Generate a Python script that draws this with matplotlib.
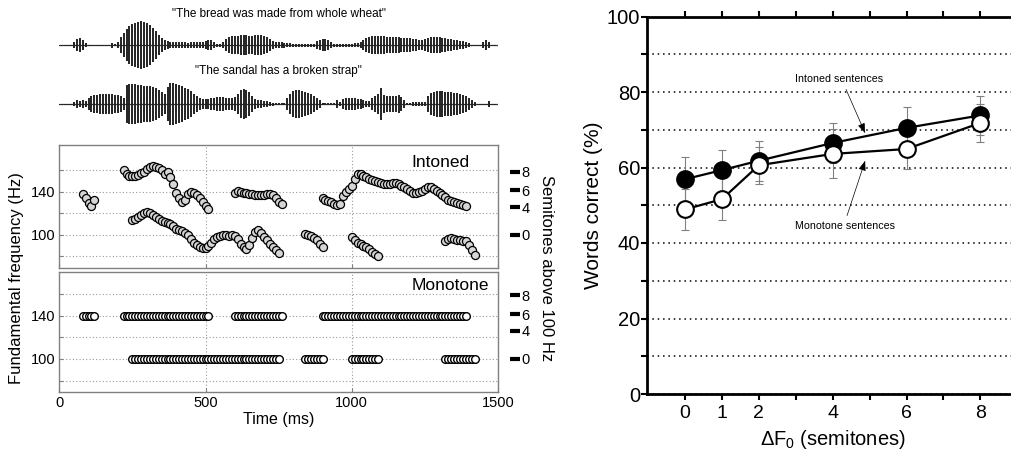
import numpy as np
import matplotlib
matplotlib.use("Agg")
import matplotlib.pyplot as plt

plt.rcParams['font.family'] = ['Liberation Sans', 'DejaVu Sans']
plt.rcParams['mathtext.fontset'] = 'custom'
plt.rcParams['mathtext.rm'] = 'Liberation Sans'
plt.rcParams['mathtext.it'] = 'Liberation Sans:italic'

# ---------------- data ----------------
sentence_titles = ['"The bread was made from whole wheat"', '"The sandal has a broken strap"']
wave_step_ms = 10
bread_envelope = [0.5, 0.5, 0.5, 0.5, 0.5,
                  3, 6, 7, 5, 2,
                  0.5, 0.5, 0.5, 0.5, 0.5, 0.5, 0.5, 0.5,
                  2.5, 1, 3,
                  8, 12, 16, 19, 21, 22, 23, 24, 23, 22, 20, 17, 14, 10, 7, 5,
                  4, 3, 3, 3, 3, 3, 3, 2.5, 3, 3, 3, 3, 3, 4, 5,
                  5, 3, 1.5, 1.5, 3,
                  6, 8, 9, 9, 9, 10, 10, 10, 9, 9, 10, 10, 10, 9, 8, 6, 4,
                  3, 3, 3, 2.5, 2, 2,
                  1.5, 1.5, 1.5, 1.5, 1.5, 1.5, 1.5, 1.5,
                  4, 5, 6, 6, 5, 3,
                  1.5, 1.5, 1.5, 1.5, 1.5, 1.5, 1.5, 2, 2, 3,
                  5, 7, 8, 9, 9, 9, 9, 9, 8, 8, 8, 8, 8, 7, 7, 7, 7, 6, 6, 5,
                  5, 6, 7, 8, 8, 8, 8, 7, 7, 6, 6, 5, 5, 4, 4, 3, 2,
                  0.5, 0.5, 0.5, 0.5,
                  3, 5, 3,
                  0.5, 0.5]
sandal_envelope = [0.5, 0.5, 0.5, 0.5, 0.5,
                   2, 4, 3, 4, 3,
                   6, 8, 9, 9, 10, 10, 10, 10, 10, 9, 9, 8, 6,
                   19, 20, 20, 20, 19, 19, 18, 18, 18, 17, 16, 14, 12, 10,
                   17, 21, 21, 20, 19, 18, 16, 15, 13, 10, 8,
                   6, 5, 5, 5, 6, 6, 7, 7, 7, 6, 6, 6, 7,
                   10, 14, 15, 14, 12, 8, 5,
                   4, 4, 3, 3, 2, 1.5,
                   1, 1, 1, 1,
                   6, 10, 13, 14, 14, 13, 12, 11, 10, 8, 6, 4,
                   1, 1, 1, 1, 1,
                   4, 2,
                   5, 6, 6, 6, 6, 5, 5, 4, 3,
                   3, 6, 8, 10, 16, 9, 8, 8, 8, 8, 9, 7, 4,
                   1, 1, 2, 2, 2, 2, 2,
                   8, 11, 12, 13, 13, 13, 12, 12, 12, 11, 11, 10, 9, 8, 6, 4, 2,
                   0.5, 0.5, 0.5, 0.5,
                   3,
                   0.5, 0.5]

f0_step_ms = 10
# upper-pitched sentence ("bread"), intoned F0 tracks (Hz)
upper_starts_ms = [80, 220, 600, 900]
upper_seg1_hz = [138, 134, 130, 127, 133]
upper_seg2_hz = [160, 157, 155, 155, 155, 156, 158, 159, 161, 163, 164, 163, 162, 160, 157,
                 159, 154, 147, 139, 134, 131, 133, 138, 140, 139, 137, 134, 131, 127, 124]
upper_seg3_hz = [139, 141, 140, 139, 139, 138, 138, 137, 137, 137, 137, 138, 138, 137, 134, 131, 129]
upper_seg4_hz = [134, 133, 132, 131, 129, 128, 129, 136, 140, 143, 146, 152, 157, 157, 155,
                 154, 152, 151, 150, 149, 148, 147, 147, 147, 148, 148, 147, 146, 145, 143,
                 141, 139, 139, 140, 141, 143, 145, 145, 143, 141, 139, 137, 135, 133, 132,
                 131, 130, 129, 128, 127]
# lower-pitched sentence ("sandal"), intoned F0 tracks (Hz)
lower_starts_ms = [250, 650, 840, 1000, 1320]
lower_seg1_hz = [114, 115, 117, 119, 120, 121, 120, 119, 117, 115, 113, 112, 111, 110, 108, 106,
                 105, 104, 102, 100, 96, 93, 91, 89, 88, 88, 90, 93, 96, 98, 99, 100, 100, 99,
                 100, 99, 96, 92, 89, 87]
lower_seg2_hz = [91, 97, 103, 105, 102, 98, 95, 92, 89, 86, 83]
lower_seg3_hz = [101, 100, 99, 97, 95, 92, 89]
lower_seg4_hz = [98, 95, 93, 92, 90, 89, 87, 84, 82, 80]
lower_seg5_hz = [94, 96, 97, 96, 95, 95, 94, 94, 91, 86, 81]
monotone_upper_hz = 140
monotone_lower_hz = 100
semitone_ticks = [0, 4, 6, 8]

delta_f0 = [0, 1, 2, 4, 6, 8]
intoned_pct = [56.9, 59.3, 61.8, 66.5, 70.5, 73.8]
intoned_err = [5.9, 5.4, 5.3, 5.2, 5.5, 5.1]
monotone_pct = [48.9, 51.6, 60.6, 63.6, 64.9, 71.8]
monotone_err = [5.5, 5.6, 4.9, 6.5, 5.3, 5.0]

# ---------------- figure ----------------
W, H = 1011, 450
fig = plt.figure(figsize=(W / 100, H / 100), dpi=100)


def fx(px):
    return px / W


def fy(py):
    return 1 - py / H


L, R = 59.3, 498.0
# waveforms
ax_w = fig.add_axes([fx(L), fy(135), fx(R) - fx(L), 135 / H])
ax_w.set_xlim(0, 1500)
ax_w.set_ylim(135, 0)
ax_w.axis('off')
for center, env in ((45, bread_envelope), (104, sandal_envelope)):
    env = np.asarray(env, dtype=float)
    t = np.arange(len(env)) * wave_step_ms
    ax_w.hlines(center, 0, 1500, color='#333333', lw=0.9)
    ax_w.vlines(t, center - env, center + env, color='#222222', lw=1.4)
ax_w.text(750, 14, sentence_titles[0], ha='center', va='center', fontsize=8.5)
ax_w.text(750, 71, sentence_titles[1], ha='center', va='center', fontsize=8.5)

ax_i = fig.add_axes([fx(L), fy(268), fx(R) - fx(L), (268 - 145) / H])
ax_m = fig.add_axes([fx(L), fy(392), fx(R) - fx(L), (392 - 272) / H])
ax_i.set_ylim(69.3, 183.7)
ax_m.set_ylim(69.5, 180.4)

upper_segs = [upper_seg1_hz, upper_seg2_hz, upper_seg3_hz, upper_seg4_hz]
lower_segs = [lower_seg1_hz, lower_seg2_hz, lower_seg3_hz, lower_seg4_hz, lower_seg5_hz]

for ax, mono in ((ax_i, False), (ax_m, True)):
    ax.set_xlim(0, 1500)
    for sp in ax.spines.values():
        sp.set_color('#808080')
        sp.set_linewidth(1.0)
    ax.set_yticks([80, 100, 120, 140, 160])
    ax.set_yticklabels(['', '100', '', '140', ''])
    ax.set_xticks([0, 500, 1000, 1500])
    ax.tick_params(axis='both', direction='in', length=3, color='#808080', labelsize=10.5, pad=3)
    ax.grid(True, color='#9a9a9a', ls=(0, (1, 2)), lw=0.8)
    ax.set_axisbelow(True)
    for starts, segs, mono_hz in ((upper_starts_ms, upper_segs, monotone_upper_hz),
                                  (lower_starts_ms, lower_segs, monotone_lower_hz)):
        for st, seg in zip(starts, segs):
            t = st + np.arange(len(seg)) * f0_step_ms
            if mono:
                ax.plot(t, np.full(len(seg), mono_hz), 'o', ms=5.5, mfc='white', mec='black',
                        mew=1.0, ls='none', zorder=3)
            else:
                ax.plot(t, seg, 'o', ms=5.8, mfc='#d6d6d6', mec='black', mew=0.9,
                        ls='none', zorder=3)
    # semitone axis
    ax2 = ax.twinx()
    ax2.set_ylim(ax.get_ylim())
    for sp in ax2.spines.values():
        sp.set_visible(False)
    ax2.spines['right'].set_position(('outward', 8.6))
    ax2.set_yticks([100 * 2 ** (s / 12) for s in semitone_ticks])
    ax2.set_yticklabels([str(s) for s in semitone_ticks])
    ax2.tick_params(axis='y', direction='out', length=7, width=3, color='black',
                    labelsize=10.5, pad=1.5)

ax_i.tick_params(axis='x', labelbottom=False)
ax_i.text(1205, 163.3, 'Intoned', ha='left', va='baseline', fontsize=12.5)
ax_m.text(1205, 163.7, 'Monotone', ha='left', va='baseline', fontsize=12.5)
ax_m.set_xlabel('Time (ms)', fontsize=11.5, labelpad=1)

fig.text(fx(16.5), fy(278), 'Fundamental frequency (Hz)', rotation=90, ha='center', va='center',
         fontsize=12)
fig.text(fx(546), fy(268), 'Semitones above 100 Hz', rotation=270, ha='center', va='center',
         fontsize=12)

# ---------------- right panel ----------------
ax_r = fig.add_axes([fx(647), fy(394), 1 - fx(647), (394 - 16.5) / H])
ax_r.set_xlim(-1.03, 8.83)
ax_r.set_ylim(0, 100)
for k in ('left', 'bottom', 'top'):
    ax_r.spines[k].set_linewidth(2)
ax_r.spines['right'].set_visible(False)
ax_r.set_xticks(range(9))
ax_r.set_xticklabels(['0', '1', '2', '', '4', '', '6', '', '8'])
ax_r.tick_params(axis='x', which='both', direction='out', length=4, width=1.5, top=True,
                 labelsize=14, pad=4)
ax_r.set_yticks(range(0, 101, 20))
ax_r.set_yticks(range(10, 100, 20), minor=True)
ax_r.tick_params(axis='y', which='both', direction='out', length=4, width=1.5,
                 labelsize=14.5, pad=1)
ax_r.yaxis.grid(True, which='both', color='black', ls=(0, (1, 2.5)), lw=1.1)
ax_r.set_axisbelow(True)

ax_r.errorbar(delta_f0, intoned_pct, yerr=intoned_err, fmt='none', ecolor='#808080',
              elinewidth=0.8, capsize=3, capthick=0.8, zorder=3)
ax_r.errorbar(delta_f0, monotone_pct, yerr=monotone_err, fmt='none', ecolor='#808080',
              elinewidth=0.8, capsize=3, capthick=0.8, zorder=3)
ax_r.plot(delta_f0, intoned_pct, '-o', color='black', lw=1.6, ms=12, mfc='black', mec='black',
          mew=1.5, zorder=4, clip_on=False)
ax_r.plot(delta_f0, monotone_pct, '-o', color='black', lw=1.6, ms=12, mfc='white', mec='black',
          mew=1.5, zorder=5, clip_on=False)

ax_r.annotate('Intoned sentences', xy=(4.88, 69.1), xytext=(4.18, 83.4), ha='center', va='center',
              fontsize=7.7,
              arrowprops=dict(arrowstyle='-|>,head_length=0.6,head_width=0.22', color='black',
                              lw=0.5, mutation_scale=10, shrinkA=2, shrinkB=0, relpos=(0.55, 0)))
ax_r.annotate('Monotone sentences', xy=(4.88, 61.8), xytext=(4.34, 44.5), ha='center', va='center',
              fontsize=7.7,
              arrowprops=dict(arrowstyle='-|>,head_length=0.6,head_width=0.22', color='black',
                              lw=0.5, mutation_scale=10, shrinkA=2, shrinkB=0, relpos=(0.5, 1)))

ax_r.set_ylabel('Words correct (%)', fontsize=15)
ax_r.yaxis.set_label_coords(-0.121, 0.5)
ax_r.set_xlabel(r'$\Delta$F$_{0}$ (semitones)', fontsize=14.5)
ax_r.xaxis.set_label_coords(0.51, -0.09)

fig.savefig('out.png', dpi=100)
